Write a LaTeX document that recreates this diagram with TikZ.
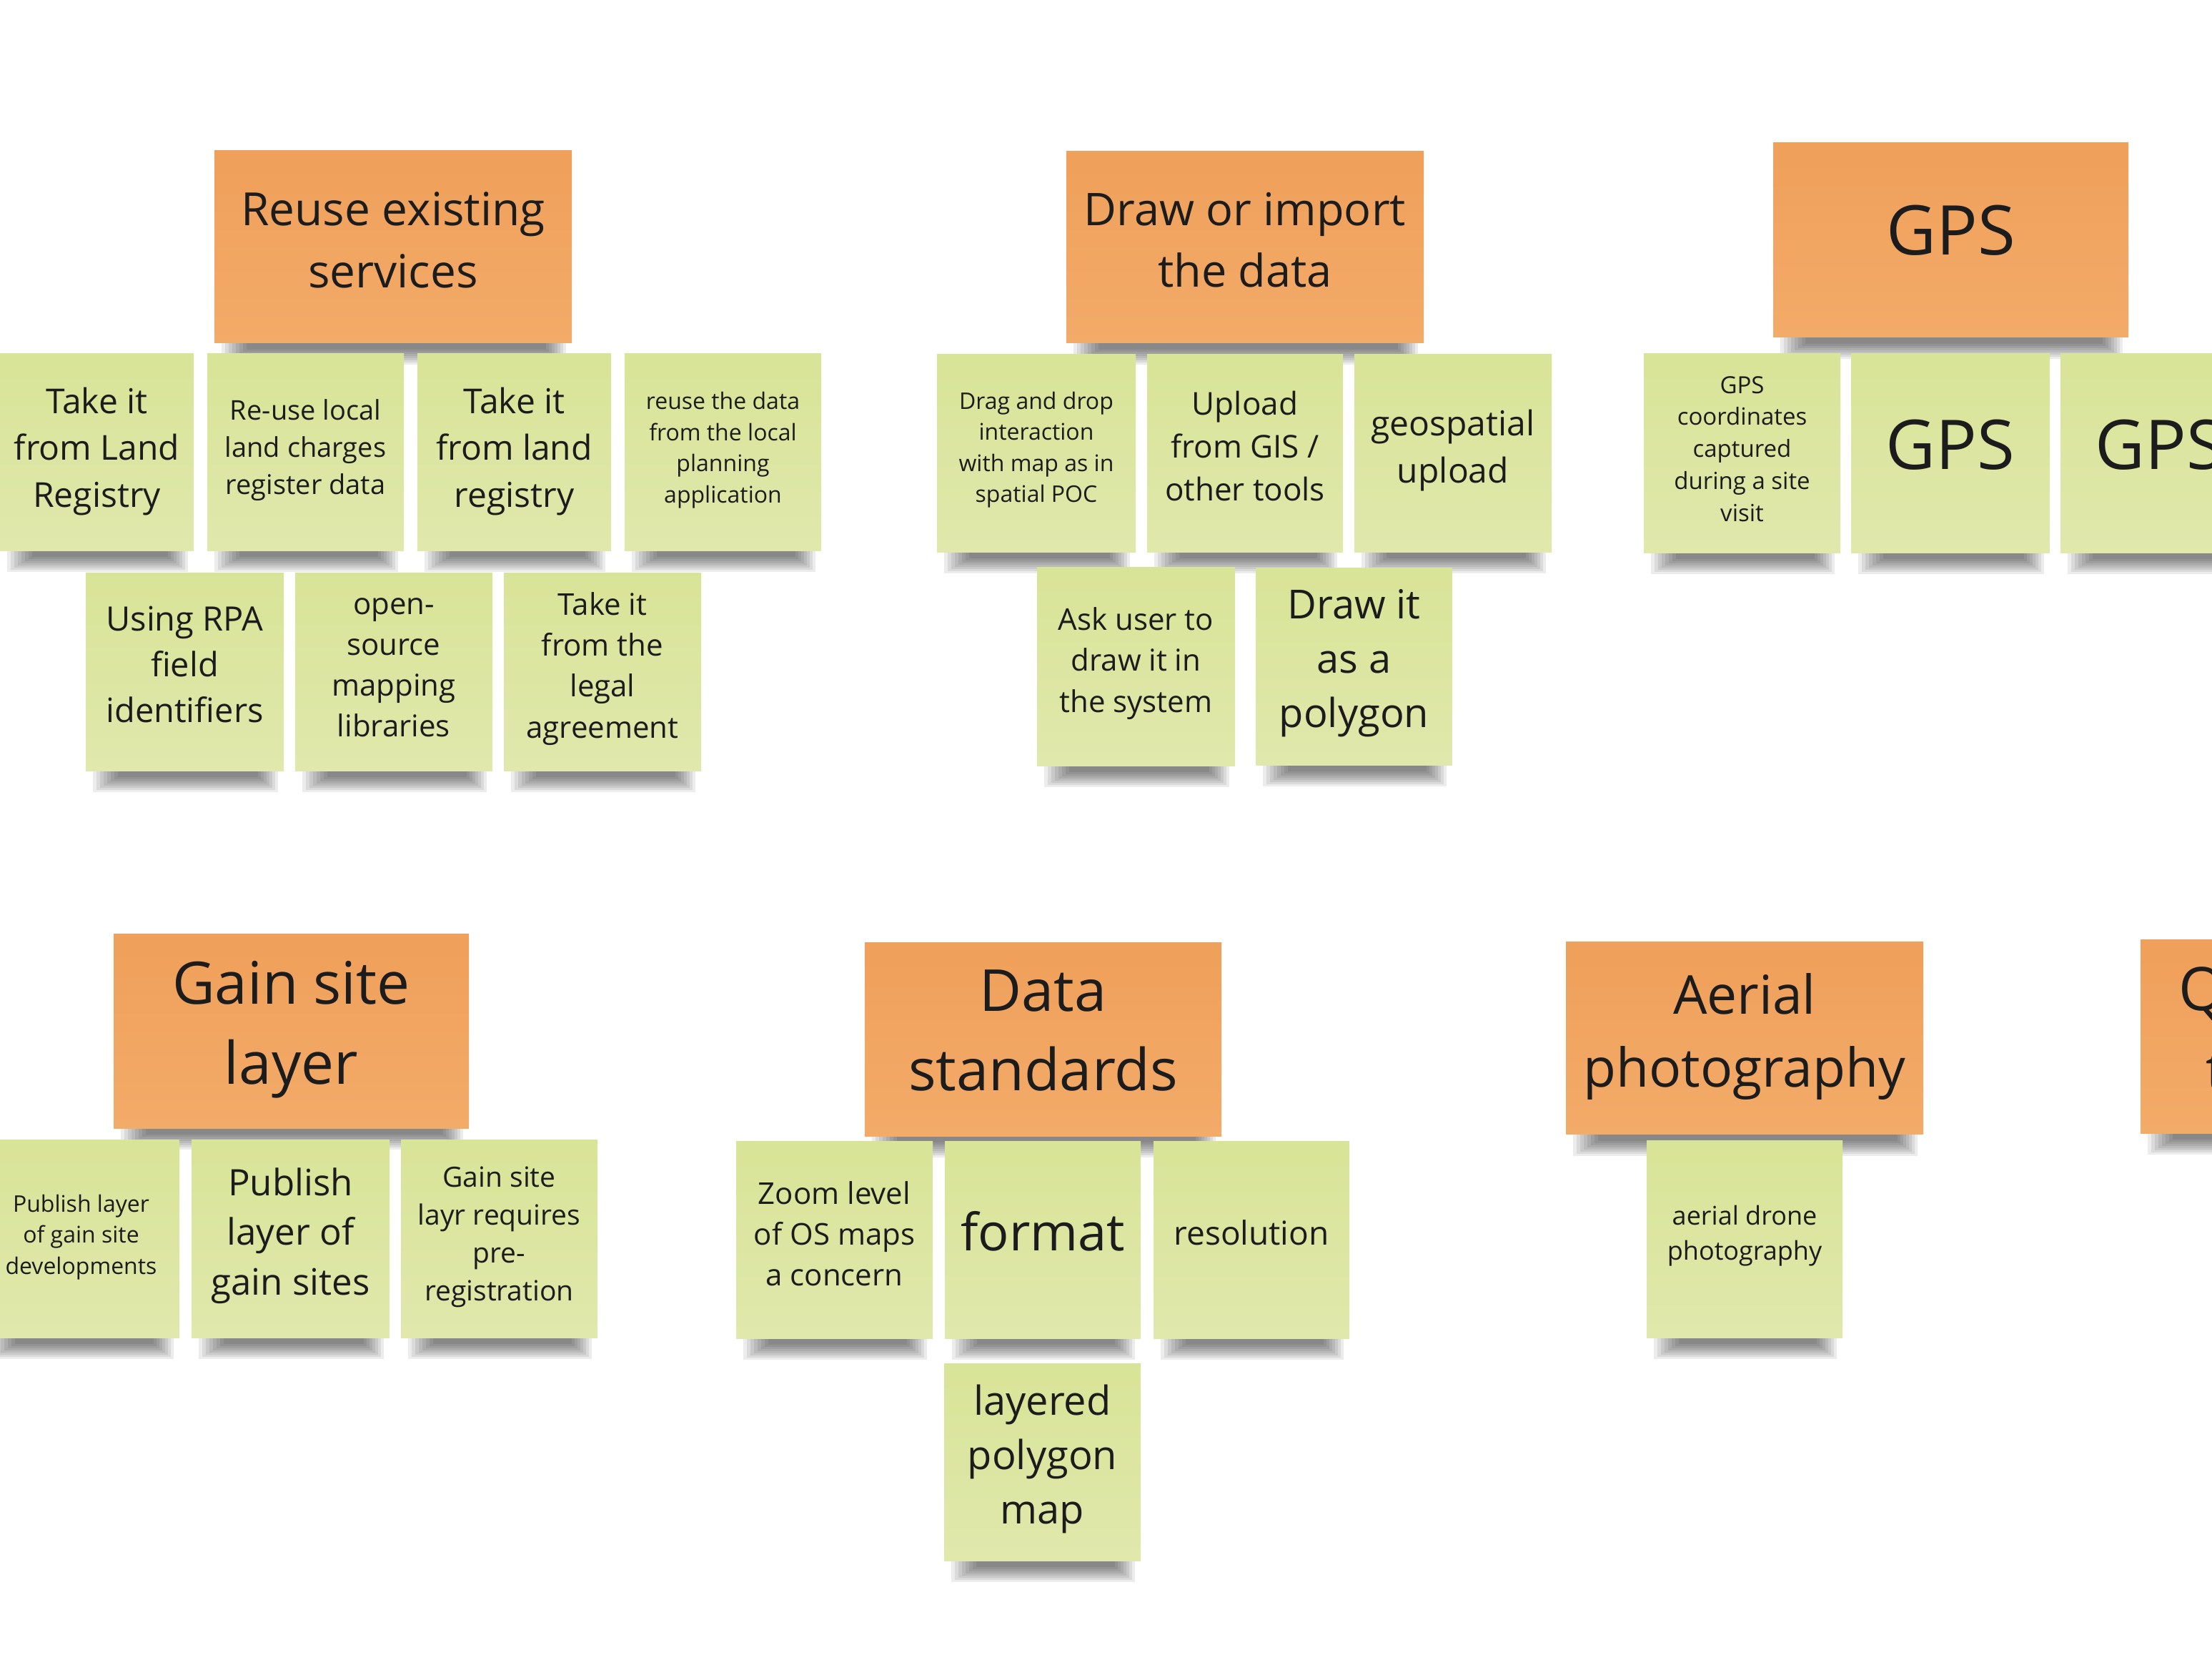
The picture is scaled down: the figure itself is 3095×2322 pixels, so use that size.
\documentclass[tikz,border=0pt]{standalone}
\usepackage{fontspec}
\setmainfont{Open Sans}
\usetikzlibrary{calc}
\pgfdeclarelayer{bg}
\pgfsetlayers{bg,main}
\definecolor{orTop}{HTML}{EFA05A}
\definecolor{orBot}{HTML}{F3AB69}
\definecolor{grTop}{HTML}{D8E497}
\definecolor{grBot}{HTML}{E0E8AC}
\definecolor{ink}{HTML}{1C1C1C}
\newcommand\fsz[1]{\fontsize{\fpeval{#1/2}}{\fpeval{0.68*#1}}\selectfont}
\newcommand\shadowof[1]{%
  \begin{pgfonlayer}{bg}
  \foreach \k in {0,...,7}{
    \fill[black,opacity=0.075] ($(#1.south west)+(10+5*\k,-20)$) rectangle ($(#1.south east)+(-8-4*\k,30-3*\k)$);
  }
  \end{pgfonlayer}}
% #1 style, #2 name, #3 width, #4 height, #5 x, #6 y, #7 font size (px), #8 rise of the text (px), #9 text
\newcommand\stick[9]{%
  \node[#1, sz={#3}{#4}] (#2) at (#5,#6) {};
  \node[note, font=\fsz{#7}] (#2t) at ($(#2.center)+(0,{-(#8)})$) {#9};}
\tikzset{
  note/.style={rectangle, inner sep=0pt, align=center, text=ink},
  sz/.style 2 args={minimum width=#1*0.5pt, minimum height=#2*0.5pt},
  orangenote/.style={rectangle, inner sep=0pt, top color=orTop, bottom color=orBot},
  greennote/.style={rectangle, inner sep=0pt, top color=grTop, bottom color=grBot},
  looseword/.style={inner sep=0pt, text=ink, anchor=base west},
}
\begin{document}
\begin{tikzpicture}[x=0.5pt,y=-0.5pt]
\useasboundingbox (0,0) rectangle (3095,2322);
\begin{pgfonlayer}{bg}\fill[white] (0,0) rectangle (3095,2322);\end{pgfonlayer}

% ---------- Reuse existing services
\stick{orangenote}{o1}{500}{269}{550}{345.5}{64}{10}{Reuse existing\\services}
\stick{greennote}{g1a}{271}{275}{135.5}{632.5}{48}{1}{Take it\\from Land\\Registry}
\stick{greennote}{g1b}{275}{275}{427.5}{632.5}{38}{3}{Re-use local\\land charges\\register data}
\stick{greennote}{g1c}{271}{275}{719.5}{632.5}{48}{1}{Take it\\from land\\registry}
\stick{greennote}{g1d}{275}{275}{1011.5}{632.5}{32}{3}{reuse the data\\from the local\\planning\\application}
\stick{greennote}{g1e}{277}{277}{258.5}{939.5}{47}{10}{Using RPA\\field\\identifiers}
\stick{greennote}{g1f}{276}{277}{551}{939.5}{42}{6}{open-\\source\\mapping\\libraries}
\stick{greennote}{g1g}{276}{277}{843}{939.5}{42}{4}{Take it\\from the\\legal\\agreement}

% ---------- Draw or import the data
\stick{orangenote}{o2}{500}{268}{1742}{345.5}{63}{10}{Draw or import\\the data}
\stick{greennote}{g2a}{278}{276}{1450}{634}{32}{5}{Drag and drop\\interaction\\with map as in\\spatial POC}
\stick{greennote}{g2b}{274}{276}{1742}{634}{44}{10}{Upload\\from GIS /\\other tools}
\stick{greennote}{g2c}{276}{276}{2033}{634}{48}{4}{geospatial\\upload}
\stick{greennote}{g2d}{277}{278}{1589.5}{932}{42}{4}{Ask user to\\draw it in\\the system}
\stick{greennote}{g2e}{274}{276}{1894.5}{932}{56}{4}{Draw it\\as a\\polygon}

% ---------- GPS
\stick{orangenote}{o3}{497}{272}{2729.5}{336}{96}{14}{GPS}
\stick{greennote}{g3a}{275}{278}{2437.5}{634}{33}{6}{GPS\\coordinates\\captured\\during a site\\visit}
\stick{greennote}{g3b}{278}{278}{2729}{634}{96}{12}{GPS}
\stick{greennote}{g3c}{278}{278}{3022}{634}{96}{12}{GPS}

% ---------- Gain site layer
\stick{orangenote}{o4}{497}{272}{407.5}{1442}{82}{2}{Gain site\\layer}
\stick{greennote}{g4a}{275}{277}{113.5}{1732.5}{32}{2}{Publish layer\\of gain site\\developments}
\stick{greennote}{g4b}{277}{277}{406.5}{1732.5}{51}{4}{Publish\\layer of\\gain sites}
\stick{greennote}{g4c}{275}{277}{698.5}{1732.5}{39}{2}{Gain site\\layr requires\\pre-\\registration}

% ---------- Data standards
\stick{orangenote}{o5}{499}{271}{1459.5}{1453.5}{81}{12}{Data\\standards}
\stick{greennote}{g5a}{275}{276}{1167.5}{1734}{42}{8}{Zoom level\\of OS maps\\a concern}
\stick{greennote}{g5b}{274}{276}{1459}{1734}{72}{12}{format}
\stick{greennote}{g5c}{274}{276}{1751}{1734}{46}{10}{resolution}
\stick{greennote}{g5d}{275}{276}{1458.5}{2045}{56}{4}{layered\\polygon\\map}

% ---------- Aerial photography
\stick{orangenote}{o6}{500}{269}{2441}{1452}{75}{2}{Aerial\\photography}
\stick{greennote}{g6a}{274}{276}{2441}{1733}{36}{4}{aerial drone\\photography}

% ---------- cut-off note at the right edge
\node[orangenote, sz={500}{271}] (o7) at (3245,1449.5) {};
\node[looseword, font=\fsz{84}] (q1) at (3048,1413) {Q};
\node[looseword, font=\fsz{84}] (q2) at (3086,1527) {t};

\foreach \n in {o1,g1a,g1b,g1c,g1d,g1e,g1f,g1g,o2,g2a,g2b,g2c,g2d,g2e,o3,g3a,g3b,g3c,o4,g4a,g4b,g4c,o5,g5a,g5b,g5c,g5d,o6,g6a,o7}{\shadowof{\n}}
\end{tikzpicture}
\end{document}
